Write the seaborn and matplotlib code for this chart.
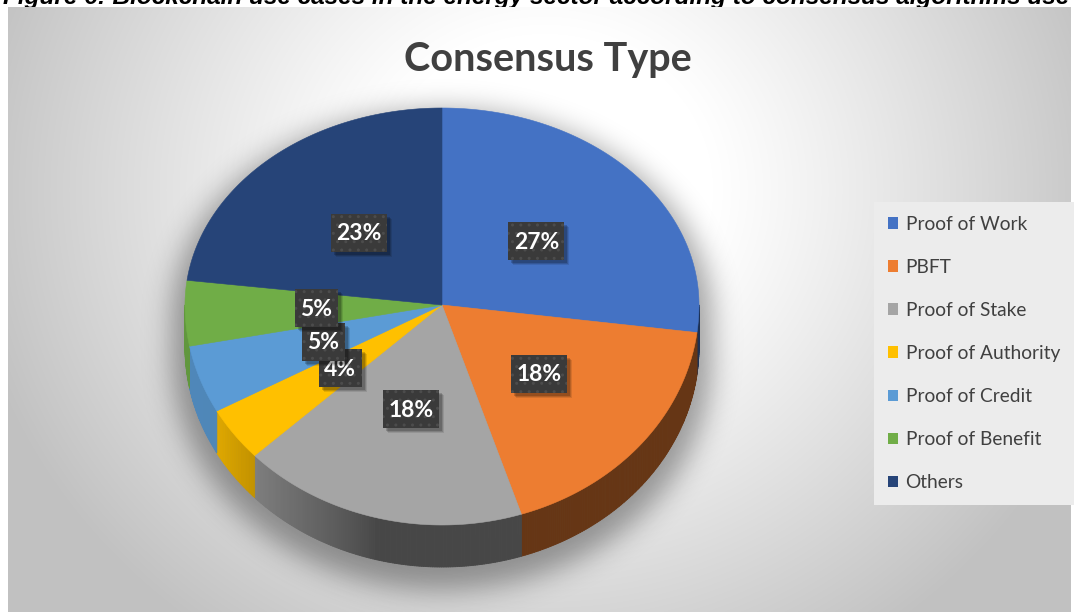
import numpy as np
import matplotlib
matplotlib.use("Agg")
import matplotlib.pyplot as plt
from matplotlib.patches import Polygon, Rectangle, Patch
from matplotlib.collections import PolyCollection
import seaborn as sns

# ---- data -------------------------------------------------------------
caption = ("Figure 6: Blockchain use cases in the energy sector according "
           "to consensus algorithms use")
title = "Consensus Type"
categories = ["Proof of Work", "PBFT", "Proof of Stake", "Proof of Authority",
              "Proof of Credit", "Proof of Benefit", "Others"]
shares = [27, 18, 18, 4, 5, 5, 23]
palette_hex = ["#4472C4", "#ED7D31", "#A5A5A5", "#FFC000",
               "#5B9BD5", "#70AD47", "#264478"]

# ---- style ------------------------------------------------------------
sns.set_theme(style="white")
plt.rcParams["font.family"] = ["Lato", "DejaVu Sans"]
colors = sns.color_palette(palette_hex)

W, H = 1076, 612
fig = plt.figure(figsize=(W / 100, H / 100), dpi=100)
ax = fig.add_axes([0, 0, 1, 1])
ax.axis("off")

# caption line running above the chart frame
ax.text(3, 4, caption, fontfamily="Liberation Sans", fontweight="bold",
        fontstyle="italic", fontsize=17.6, va="baseline", ha="left",
        color="black", zorder=0)

# chart area with a soft radial gradient
X0, X1, Y0, Y1 = 8, 1071, 7, 612
yy, xx = np.mgrid[Y0:Y1, X0:X1] + 0.5
d = np.sqrt(((xx - 545) / 560) ** 2 + ((yy - 190) / 520) ** 2)
t = np.clip((d - 0.3) / 0.75, 0, 1)
g = (255 - 62 * t ** 1.1) / 255
ax.imshow(np.dstack([g, g, g]), extent=(X0, X1, Y1, Y0), zorder=1,
          interpolation="bilinear", aspect="auto")

# ---- 3D pie geometry --------------------------------------------------
cx, cy = 442, 305
rx, ry_far, ry_near = 257, 197, 220
depth = 42


def rim(theta_deg, frac=1.0):
    th = np.radians(theta_deg)
    s, c = np.sin(th), np.cos(th)
    ry = np.where(c > 0, ry_far, ry_near)
    return cx + frac * rx * s, cy - frac * ry * c


total = float(sum(shares))
bounds = np.concatenate([[0.0], np.cumsum(shares)]) / total * 360.0

# soft drop shadow under the pie
ys, xs = np.mgrid[0:H, 0:W] + 0.5
sh_off, grow = 12, 1.05
dxn = (xs - cx) / (rx * grow)
yrel = ys - cy - sh_off
dyn = np.where(yrel < 0, yrel / (ry_far * grow),
               np.where(yrel <= depth, 0.0, (yrel - depth) / (ry_near * grow)))
mask = (dxn ** 2 + dyn ** 2 <= 1).astype(float)
sigma = 14
k = np.exp(-0.5 * (np.arange(-3 * sigma, 3 * sigma + 1) / sigma) ** 2)
k /= k.sum()
blur = np.apply_along_axis(lambda r: np.convolve(r, k, mode="same"), 1, mask)
blur = np.apply_along_axis(lambda c: np.convolve(c, k, mode="same"), 0, blur)
shadow = np.zeros((H, W, 4))
shadow[..., 3] = 0.36 * blur
ax.imshow(shadow, extent=(0, W, H, 0), zorder=2, aspect="auto")


def shade(theta):
    u = np.clip((theta - 195) / 45, 0, 1) ** 0.8
    return 0.43 + 0.44 * u


# side walls (front half: 90..270 degrees clockwise from 12 o'clock)
quads, qcols = [], []
for i, col in enumerate(colors):
    a0, a1 = max(bounds[i], 90), min(bounds[i + 1], 270)
    if a1 <= a0:
        continue
    n = max(2, int((a1 - a0) / 0.5) + 1)
    th = np.linspace(a0, a1, n)
    px, py = rim(th)
    for j in range(n - 1):
        quads.append([(px[j], py[j]), (px[j + 1], py[j + 1]),
                      (px[j + 1], py[j + 1] + depth), (px[j], py[j] + depth)])
        f = shade(0.5 * (th[j] + th[j + 1]))
        qcols.append(tuple(np.array(col) * f))
ax.add_collection(PolyCollection(quads, facecolors=qcols, edgecolors=qcols,
                                 linewidths=0.6, zorder=3))

# top faces
for i, col in enumerate(colors):
    th = np.linspace(bounds[i], bounds[i + 1], 200)
    px, py = rim(th)
    verts = np.column_stack([np.r_[cx, px], np.r_[cy, py]])
    ax.add_patch(Polygon(verts, closed=True, facecolor=col, edgecolor=col,
                         linewidth=0.4, zorder=4))

# data labels
for i, v in enumerate(shares):
    mid = 0.5 * (bounds[i] + bounds[i + 1])
    lx, ly = rim(mid, 0.49)
    lab = f"{v / total * 100:.0f}%"
    bw, bh = 13 * len(lab) + 17, 38
    for off, al in [(5, 0.10), (4, 0.14), (3, 0.18)]:
        ax.add_patch(Rectangle((lx - bw / 2 + off, ly - bh / 2 + off), bw, bh,
                               facecolor="black", edgecolor="none", alpha=al,
                               zorder=5 + i * 0.1))
    ax.add_patch(Rectangle((lx - bw / 2, ly - bh / 2), bw, bh,
                           facecolor="#3a3a3a", edgecolor="#4c4c4c",
                           linewidth=0, hatch="..", zorder=5.02 + i * 0.1))
    ax.text(lx, ly + 1, lab, ha="center", va="center", color="white",
            fontsize=16.5, fontweight="bold", zorder=5.05 + i * 0.1)

# title
ax.text(548, 60, title, ha="center", va="center", fontsize=28.5,
        fontweight="bold", color="#404040", zorder=6)

# legend
handles = [Patch(facecolor=c, edgecolor="none") for c in colors]
leg = ax.legend(handles, categories, loc="upper left",
                bbox_to_anchor=(874 / W, 1 - 202 / H),
                bbox_transform=fig.transFigure, frameon=True,
                fontsize=13.8, handlelength=0.55, handleheight=0.55,
                handletextpad=0.38, labelspacing=1.36, borderpad=0.72,
                borderaxespad=0, fancybox=False)
leg.get_frame().set_facecolor("#ececec")
leg.get_frame().set_edgecolor("none")
leg.get_frame().set_alpha(1)
leg.set_zorder(7)
for txt in leg.get_texts():
    txt.set_color("#404040")

ax.set_xlim(0, W)
ax.set_ylim(H, 0)
fig.savefig("out.png", dpi=100, facecolor="white")
